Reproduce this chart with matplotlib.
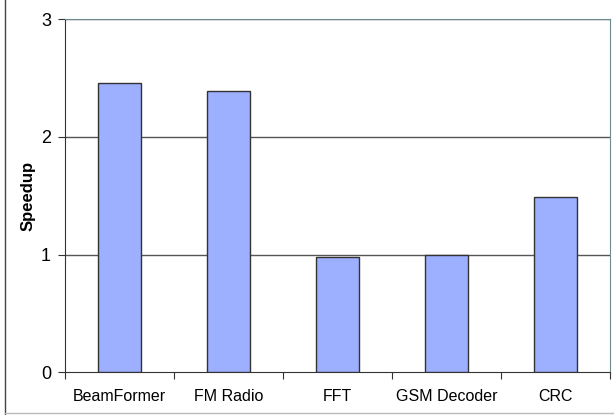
import matplotlib
matplotlib.use("Agg")
import matplotlib.pyplot as plt
from matplotlib.lines import Line2D

categories = ["BeamFormer", "FM Radio", "FFT", "GSM Decoder", "CRC"]
speedup = [2.46, 2.39, 0.98, 1.00, 1.49]
yticks = [0, 1, 2, 3]

plt.rcParams['font.family'] = ['Liberation Sans', 'DejaVu Sans']

W, H = 614, 415
fig = plt.figure(figsize=(W/100, H/100), dpi=100)
ax = fig.add_axes([65/W, 1-372.3/H, (610-65)/W, (372.3-19.3)/H])

x = list(range(len(categories)))
ax.bar(x, speedup, width=0.4, color="#9DAFFF", edgecolor="#333333", linewidth=1.0, zorder=3)
ax.set_xlim(-0.5, len(categories)-0.5)
ax.set_ylim(0, 3)
ax.set_yticks(yticks)
ax.set_yticklabels([str(t) for t in yticks], fontsize=13)
ax.set_xticks([i - 0.5 for i in range(len(categories)+1)])
ax.set_xticklabels([])
ax.set_xticks(x, minor=True)
ax.set_xticklabels(categories, minor=True, fontsize=11.5)
ax.tick_params(axis='x', which='minor', length=0, pad=12)
ax.tick_params(axis='x', which='major', direction='out', length=5, color="#333333")
ax.tick_params(axis='y', direction='out', length=5, color="#333333", pad=5)
for v in yticks[1:]:
    ax.axhline(v, color="#555555", linewidth=1.0, zorder=1)
ax.spines['left'].set_color("#333333")
ax.spines['bottom'].set_color("#333333")
ax.spines['top'].set_color("#6E8B8E")
ax.spines['right'].set_color("#6E8B8E")
ax.set_ylabel("Speedup", fontsize=12, fontweight='bold', labelpad=4)

fig.add_artist(Line2D([4.5/W, 4.5/W], [0, 1], transform=fig.transFigure, color="#444444", linewidth=1.0))
fig.add_artist(Line2D([4.5/W, 1], [1-413/H, 1-413/H], transform=fig.transFigure, color="#BBBBBB", linewidth=1.0))

fig.savefig("out.png", dpi=100)
